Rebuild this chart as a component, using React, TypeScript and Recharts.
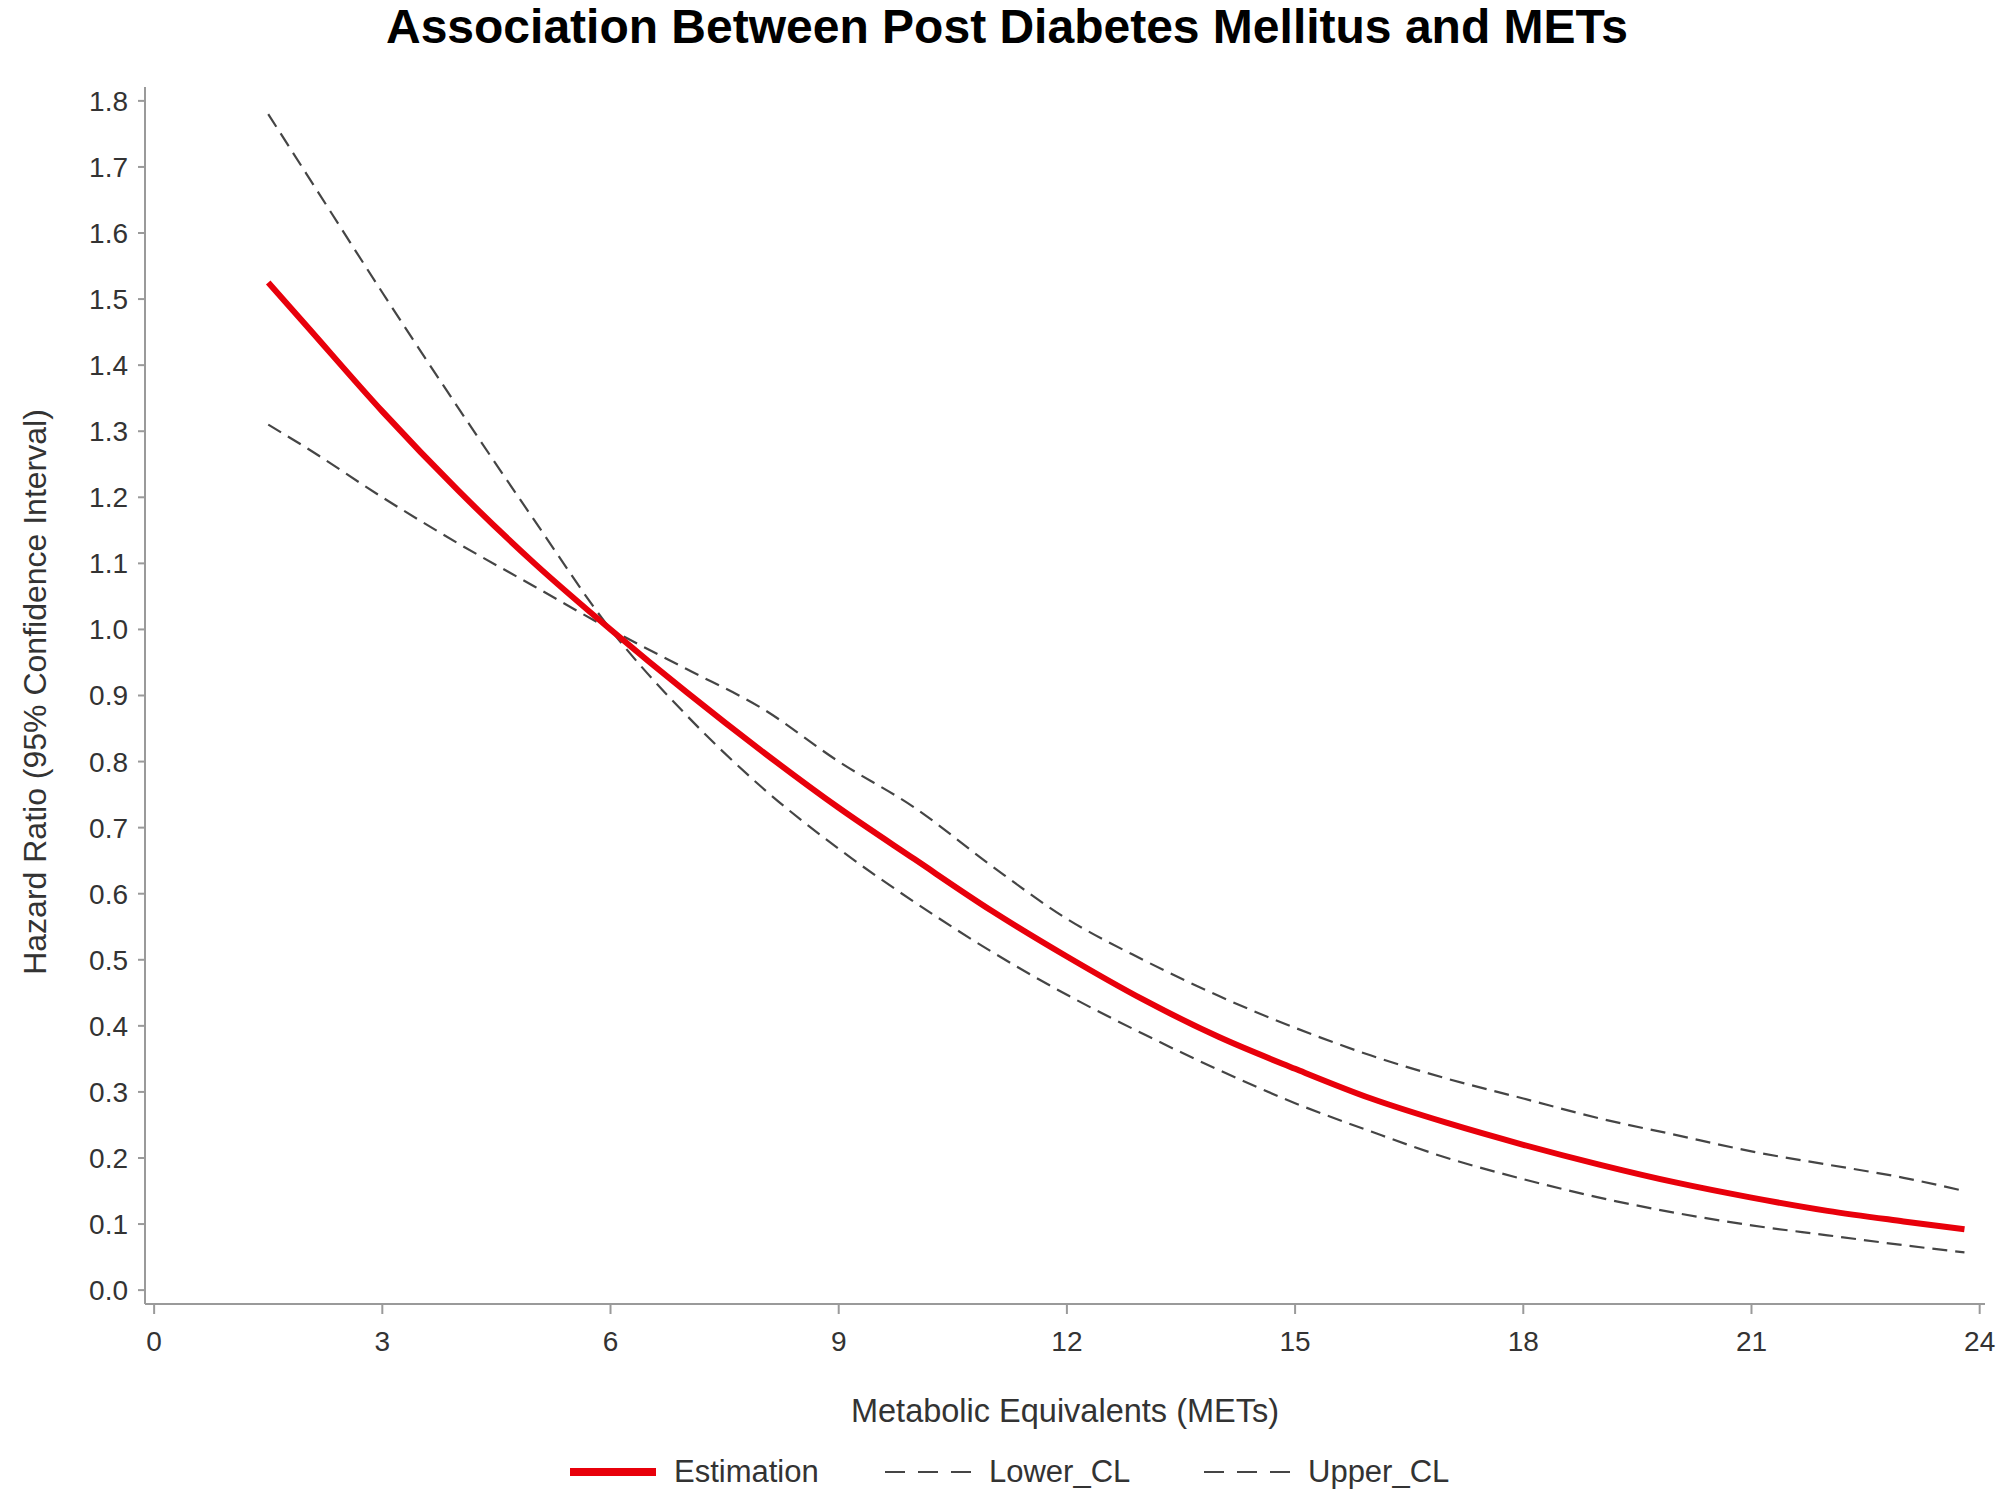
import { LineChart, Line, XAxis, YAxis } from 'recharts';

const FONT = "'Liberation Sans', Arial, sans-serif";

const title = 'Association Between Post Diabetes Mellitus and METs';
const xLabel = 'Metabolic Equivalents (METs)';
const yLabel = 'Hazard Ratio (95% Confidence Interval)';

// METs values at which the curves were read
const mets = [1.5, 2, 3, 4, 5, 6, 7, 8, 9, 10, 11, 12, 13, 14, 15, 16, 17, 18, 19, 20, 21, 22, 23, 23.8];
const estimation = [1.525, 1.46, 1.33, 1.21, 1.1, 1.0, 0.905, 0.815, 0.73, 0.652, 0.575, 0.505, 0.44, 0.383, 0.335, 0.29, 0.253, 0.22, 0.19, 0.163, 0.14, 0.12, 0.104, 0.092];
const lowerCL = [1.31, 1.275, 1.2, 1.13, 1.065, 1.0, 0.94, 0.88, 0.8, 0.73, 0.643, 0.562, 0.5, 0.445, 0.397, 0.355, 0.32, 0.29, 0.26, 0.235, 0.21, 0.19, 0.17, 0.15];
const upperCL = [1.78, 1.69, 1.51, 1.335, 1.165, 1.0, 0.87, 0.76, 0.668, 0.587, 0.513, 0.447, 0.388, 0.333, 0.283, 0.24, 0.2, 0.168, 0.14, 0.117, 0.098, 0.083, 0.068, 0.057];

const xTicks = [0, 3, 6, 9, 12, 15, 18, 21, 24];
const yTicks = [0, 0.1, 0.2, 0.3, 0.4, 0.5, 0.6, 0.7, 0.8, 0.9, 1.0, 1.1, 1.2, 1.3, 1.4, 1.5, 1.6, 1.7, 1.8];

const data = mets.map((m, i) => ({
  mets: m,
  estimation: estimation[i],
  lower: lowerCL[i],
  upper: upperCL[i],
}));

const RED = '#e8000b';
const DASH = '#454545';

function LegendItem({ label, color, width, dash, left }: { label: string; color: string; width: number; dash?: string; left: number }) {
  return (
    <div style={{ position: 'absolute', left, top: 0, display: 'flex', alignItems: 'center', gap: 18, whiteSpace: 'nowrap' }}>
      <svg width={86} height={12}>
        <line x1={0} y1={6} x2={86} y2={6} stroke={color} strokeWidth={width} strokeDasharray={dash} />
      </svg>
      <span>{label}</span>
    </div>
  );
}

export default function App() {
  return (
    <div style={{ position: 'relative', width: 2008, height: 1506, background: '#fff', fontFamily: FONT }}>
      <style>{'body{margin:0}'}</style>
      <div
        style={{
          position: 'absolute', left: 0, top: 26, width: 2014, textAlign: 'center',
          transform: 'translateY(-50%)', fontSize: 48, fontWeight: 'bold', color: '#000',
        }}
      >
        {title}
      </div>
      <LineChart width={2008} height={1506} data={data} margin={{ top: 87, right: 23, bottom: 0, left: 0 }}>
        <XAxis
          dataKey="mets"
          type="number"
          domain={[-0.12, 24.07]}
          ticks={xTicks}
          allowDataOverflow
          height={202}
          stroke="#9a9a9a"
          strokeWidth={2}
          tickSize={10}
          tickMargin={17}
          tick={{ fill: '#333', fontSize: 28, fontFamily: FONT }}
        />
        <YAxis
          type="number"
          domain={[-0.021, 1.821]}
          ticks={yTicks}
          allowDataOverflow
          width={145}
          stroke="#9a9a9a"
          strokeWidth={2}
          tickSize={7}
          tickMargin={10}
          tickFormatter={(v: number) => v.toFixed(1)}
          tick={{ fill: '#333', fontSize: 28, fontFamily: FONT }}
        />
        <Line type="monotone" dataKey="lower" stroke={DASH} strokeWidth={2.2} strokeDasharray="15 8" dot={false} isAnimationActive={false} />
        <Line type="monotone" dataKey="upper" stroke={DASH} strokeWidth={2.2} strokeDasharray="15 8" dot={false} isAnimationActive={false} />
        <Line type="monotone" dataKey="estimation" stroke={RED} strokeWidth={6} dot={false} isAnimationActive={false} />
      </LineChart>
      <div
        style={{
          position: 'absolute', left: 145, width: 1840, top: 1411, textAlign: 'center',
          transform: 'translateY(-50%)', fontSize: 32.5, color: '#333',
        }}
      >
        {xLabel}
      </div>
      <div
        style={{
          position: 'absolute', left: 35, top: 692, whiteSpace: 'nowrap',
          transform: 'translate(-50%, -50%) rotate(-90deg)', fontSize: 32, color: '#333',
        }}
      >
        {yLabel}
      </div>
      <div
        style={{
          position: 'absolute', left: 0, width: 2008, top: 1474, height: 40, transform: 'translateY(-50%)',
          fontSize: 31, color: '#333',
        }}
      >
        <LegendItem label="Estimation" color={RED} width={8} left={570} />
        <LegendItem label="Lower_CL" color={DASH} width={2.2} dash="20 13" left={885} />
        <LegendItem label="Upper_CL" color={DASH} width={2.2} dash="20 13" left={1204} />
      </div>
    </div>
  );
}
